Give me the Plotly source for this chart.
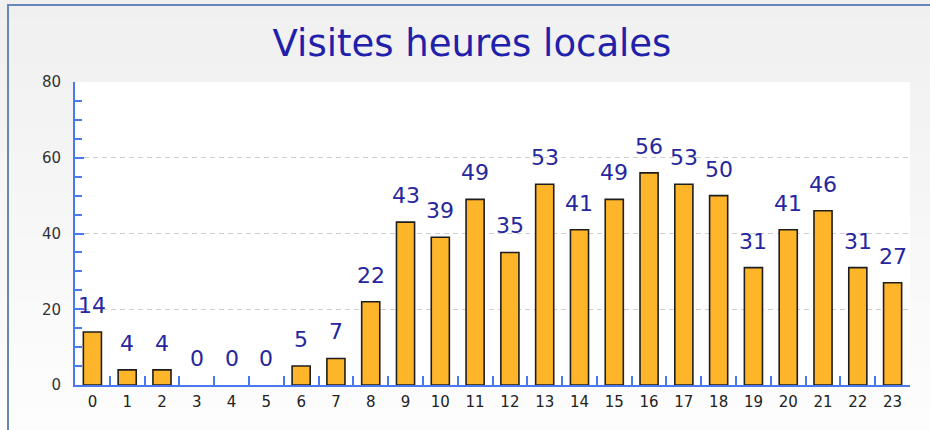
import plotly.graph_objects as go

hours = [str(h) for h in range(24)]
visits = [14, 4, 4, 0, 0, 0, 5, 7, 22, 43, 39, 49, 35, 53, 41, 49, 56, 53, 50, 31, 41, 46, 31, 27]
y_ticks = [0, 20, 40, 60, 80]
title_text = "Visites heures locales"

W, H = 930, 430
ML, MR, MT, MB = 75, 20, 82, 45
PW, PH = W - ML - MR, H - MT - MB

AXIS_BLUE = "#4a78f0"
LABEL_BLUE = "#26269e"
FONT = "DejaVu Sans"

fig = go.Figure()
fig.add_trace(go.Bar(
    x=hours, y=visits, width=0.52,
    marker=dict(color="#FFB52A",
                line=dict(color="#1e1e1e", width=[1.6 if v > 0 else 0 for v in visits])),
    hoverinfo="x+y",
))

# value labels above bars
for h, v in zip(hours, visits):
    fig.add_annotation(x=h, y=v, text=str(v), showarrow=False,
                       yanchor="bottom", yshift=12,
                       font=dict(family=FONT, size=22, color=LABEL_BLUE))

def px2paper_x(px):
    return (px - ML) / PW

def px2paper_y(py):
    return (H - MB - py) / PH

shapes = []
# background vertical gradient bands
n = 20
for i in range(n):
    t = i / (n - 1)
    c = int(round(240 + (253 - 240) * t))
    shapes.append(dict(type="rect", xref="paper", yref="paper", layer="below",
                       x0=px2paper_x(0), x1=px2paper_x(W),
                       y0=px2paper_y(H * (i + 1) / n), y1=px2paper_y(H * i / n),
                       line=dict(width=0), fillcolor=f"rgb({c},{c},{c})"))
# white plotting area
shapes.append(dict(type="rect", xref="paper", yref="paper", layer="below",
                   x0=0, x1=1, y0=0, y1=1, line=dict(width=0), fillcolor="white"))
# outer frame lines (left and top)
shapes.append(dict(type="line", xref="paper", yref="paper",
                   x0=px2paper_x(8), x1=px2paper_x(8), y0=px2paper_y(H), y1=px2paper_y(4),
                   line=dict(color="#6a86b8", width=2)))
shapes.append(dict(type="line", xref="paper", yref="paper",
                   x0=px2paper_x(7), x1=px2paper_x(W), y0=px2paper_y(5), y1=px2paper_y(5),
                   line=dict(color="#6a86b8", width=2)))

fig.update_layout(
    width=W, height=H,
    margin=dict(l=ML, r=MR, t=MT, b=MB),
    paper_bgcolor="#f6f6f6",
    plot_bgcolor="rgba(0,0,0,0)",
    showlegend=False,
    shapes=shapes,
    title=dict(text=title_text, x=472 / W, xref="container", xanchor="center",
               y=1 - 43 / H, yref="container", yanchor="middle",
               font=dict(family=FONT, size=37, color="#2020aa")),
    font=dict(family=FONT),
    bargap=0.48,
)

fig.update_xaxes(
    type="category", range=[-0.5, 23.5],
    showline=True, linecolor=AXIS_BLUE, linewidth=2,
    ticks="inside", tickson="boundaries", ticklen=9, tickwidth=2, tickcolor=AXIS_BLUE,
    showgrid=False, zeroline=False,
    tickfont=dict(family=FONT, size=15, color="#222222"),
    ticklabelstandoff=2,
    fixedrange=True,
)

fig.update_yaxes(
    range=[0, 80], tickvals=y_ticks, ticktext=[str(t) for t in y_ticks],
    showline=True, linecolor=AXIS_BLUE, linewidth=2,
    ticks="inside", ticklen=9, tickwidth=2, tickcolor=AXIS_BLUE,
    minor=dict(dtick=5, ticks="inside", ticklen=7, tickwidth=2, tickcolor=AXIS_BLUE, showgrid=False),
    showgrid=True, gridcolor="#cfcfcf", gridwidth=1, griddash="5px,4px",
    zeroline=False,
    tickfont=dict(family=FONT, size=15, color="#333333"),
    ticklabelstandoff=9,
    fixedrange=True,
)

fig.write_html("out.html", config={"displayModeBar": False},
               post_script="document.body.style.margin='0';document.body.style.overflow='hidden';")
